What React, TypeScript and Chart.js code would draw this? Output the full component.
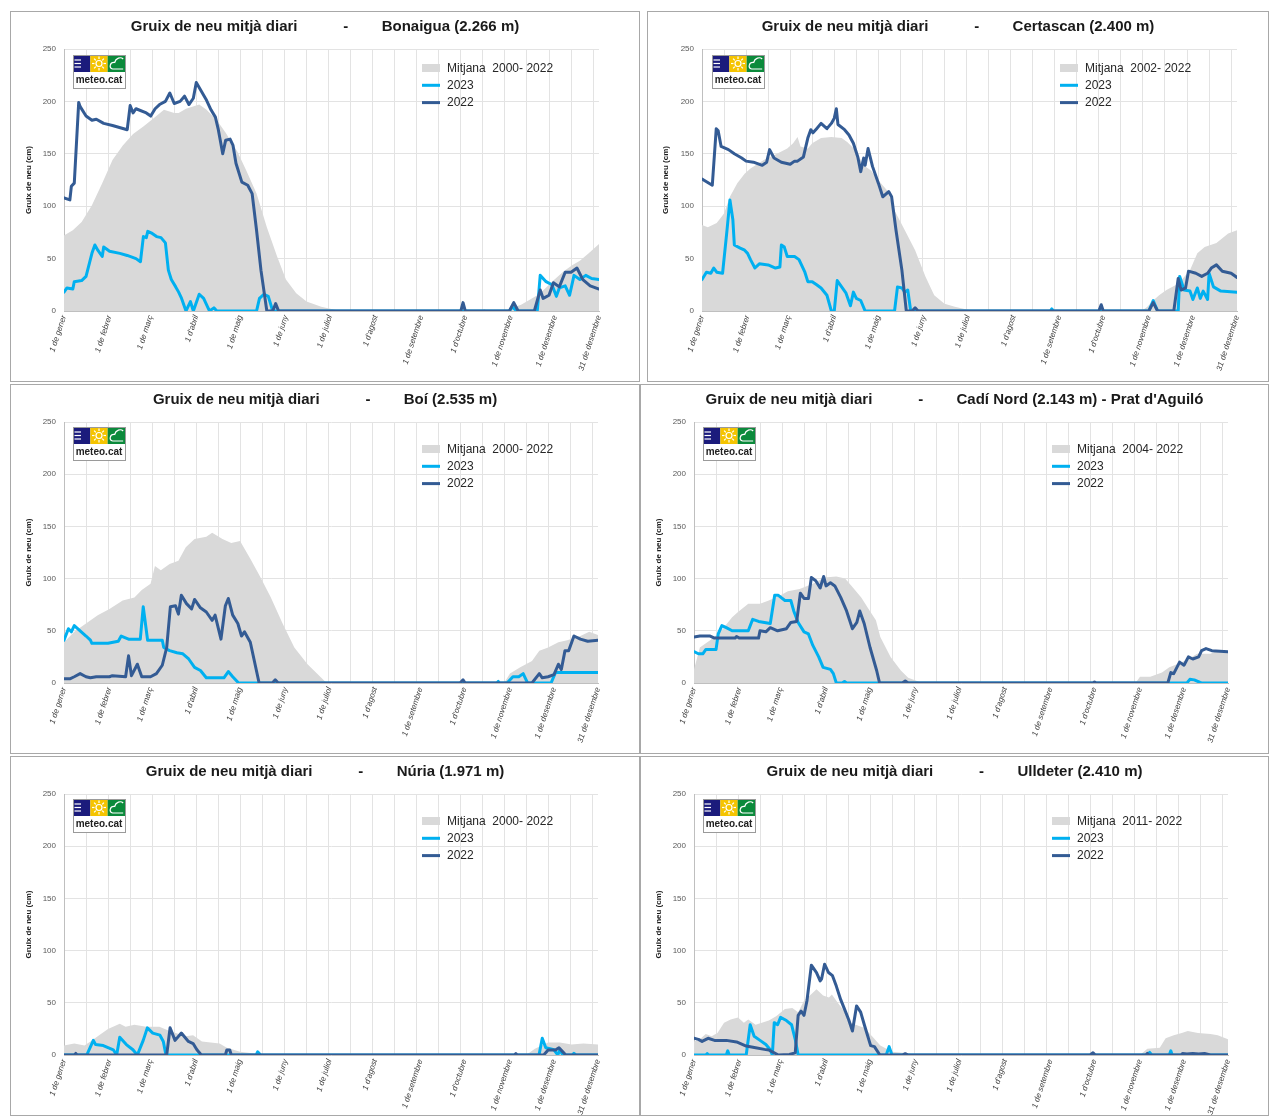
import React, { useEffect, useRef } from 'react';
import { Chart, registerables } from 'chart.js';

Chart.register(...registerables);

type Pt = [number, number];

// ---------- axis data ----------
const monthDays: number[] = [0, 31, 59, 90, 120, 151, 181, 212, 243, 273, 304, 334, 364];
const monthLabels: string[] = [
  '1 de gener', '1 de febrer', '1 de març', "1 d'abril", '1 de maig', '1 de juny',
  '1 de juliol', "1 d'agost", '1 de setembre', "1 d'octubre", '1 de novembre',
  '1 de desembre', '31 de desembre',
];
const gridDays: number[] = [0, 15, 30, 45, 60, 75, 90, 105, 120, 135, 150, 165, 180, 195, 210, 225, 240, 255, 270, 285, 300, 315, 330, 345, 360];
const yTicks: number[] = [0, 50, 100, 150, 200, 250];

// ---------- Bonaigua ----------
const bonaiguaMitjana: Pt[] = [[0,72],[6,77],[12,85],[19,101],[26,122],[33,144],[40,158],[47,169],[54,176],[61,184],[68,192],[75,189],[78,189],[83,193],[92,197],[97,192],[104,182],[110,170],[118,152],[124,134],[131,112],[138,80],[145,52],[151,30],[158,17],[165,9],[175,4],[185,1],[190,0],[284,0],[286,2],[288,0],[300,0],[305,3],[311,6],[316,10],[322,15],[327,21],[332,28],[340,38],[346,44],[351,48],[357,55],[364,64]];
const bonaigua2023: Pt[] = [[0,18],[2,22],[6,21],[7,28],[12,29],[15,33],[19,55],[21,63],[23,58],[26,52],[27,61],[31,57],[38,55],[43,53],[49,50],[52,47],[54,71],[56,70],[57,76],[60,74],[63,71],[66,70],[69,65],[71,39],[73,30],[76,23],[78,18],[80,12],[83,0],[86,9],[88,0],[92,16],[95,12],[98,3],[99,0],[102,3],[104,0],[131,0],[133,12],[136,16],[139,14],[142,0],[303,0],[305,4],[308,0],[322,0],[324,34],[328,28],[332,25],[335,14],[337,22],[341,24],[344,15],[347,34],[351,30],[355,34],[359,31],[364,30]];
const bonaigua2022: Pt[] = [[0,108],[4,106],[5,119],[7,122],[10,199],[11,195],[15,186],[19,182],[22,183],[27,179],[33,177],[43,173],[45,196],[47,189],[49,193],[56,189],[59,186],[62,193],[65,197],[69,200],[72,208],[75,198],[79,200],[82,205],[85,197],[88,203],[90,218],[97,201],[100,192],[103,185],[105,173],[108,150],[110,163],[113,164],[115,158],[117,141],[121,123],[125,120],[128,112],[131,77],[134,39],[138,0],[142,0],[144,7],[146,0],[270,0],[271.5,8],[273,0],[303,0],[306,8],[309,0],[320,0],[324,20],[326,12],[330,15],[333,27],[337,23],[341,37],[345,37],[349,41],[353,30],[358,24],[364,21]];

// ---------- Certascan ----------
const certascanMitjana: Pt[] = [[0,82],[4,80],[10,84],[15,93],[19,109],[24,122],[29,131],[33,136],[42,144],[51,150],[58,155],[62,160],[65,166],[67,157],[72,155],[75,160],[81,165],[88,166],[95,165],[99,161],[104,154],[110,139],[115,134],[121,123],[126,115],[131,96],[138,77],[145,58],[152,33],[158,15],[165,7],[172,4],[180,1.5],[185,0],[299,0],[303,4],[307,10],[311,15],[316,20],[324,26],[332,39],[337,55],[342,61],[350,65],[358,74],[364,77]];
const certascan2023: Pt[] = [[0,30],[3,37],[6,36],[8,41],[10,37],[14,36],[17,77],[19,106],[21,87],[22,63],[26,60],[29,58],[31,55],[33,49],[36,41],[39,45],[45,44],[50,41],[53,42],[54,63],[56,61],[58,52],[63,52],[66,49],[70,37],[72,28],[75,28],[78,25],[81,22],[85,15],[88,0],[90,0],[92,29],[95,23],[98,17],[101,5],[103,18],[105,12],[108,10],[111,0],[131,0],[133,23],[136,22],[138,18],[140,20],[142,0],[237,0],[238,2],[239,0],[304,0],[307,10],[310,0],[324,0],[325,33],[328,20],[332,19],[334,11],[337,22],[339,12],[341,19],[344,11],[345,36],[348,23],[353,19],[364,18]];
const certascan2022: Pt[] = [[0,126],[7,120],[9.7,174],[11,172],[13,157],[18,154],[22,150],[27,146],[30,143],[35,142],[41,139],[44,142],[46,154],[49,146],[54,142],[60,140],[63,143],[65,143],[69,147],[72,165],[74,173],[75.5,170],[78,174],[81,179],[85,174],[88,179],[90,184],[91.4,193],[92.5,178],[97,173],[100,168],[103,160],[106,147],[108,133],[110,146],[111,139],[113,155],[116,138],[120,122],[123,109],[127,114],[129,109],[132,77],[136,39],[139,0],[143,0],[145,3],[147,0],[270,0],[271.6,6],[273,0],[304,0],[307,8],[310,0],[321,0],[324,31],[326,20],[329,22],[331,38],[336,36],[340,33],[344,36],[346.5,41],[350,44],[354,38],[360,36],[364,32]];

// ---------- Boí ----------
const boiMitjana: Pt[] = [[0,39],[7,49],[15,57],[23,65],[31,71],[40,79],[48,82],[53,89],[59,95],[62,112],[66,108],[72,114],[78,117],[83,130],[89,138],[97,140],[101,144],[108,138],[114,134],[120,136],[127,119],[134,101],[141,82],[149,57],[157,34],[166,18],[174,7],[179,0],[300,0],[304,9],[311,15],[319,21],[324,31],[330,34],[337,39],[343,41],[352,45],[358,49],[364,46]];
const boi2023: Pt[] = [[0,41],[3,52],[5,49],[7,55],[11,50],[15,45],[18,41],[19,38],[30,38],[37,40],[39,45],[44,42],[52,42],[54,73],[57,41],[67,41],[68,34],[72,31],[77,29],[81,28],[85,23],[89,15],[93,12],[97,5],[101,5],[109,5],[112,11],[115,6],[119,0],[295,0],[296,1.5],[297,0],[302,0],[306,6],[310,6],[313,9],[315,3],[316,0],[332,0],[335,10],[364,10]];
const boi2022: Pt[] = [[0,4],[4,4],[7,6],[11,9],[15,6],[18,5],[22,6],[31,6],[33,7],[42,6],[44,26],[46,7],[50,18],[53,6],[59,6],[63,9],[67,17],[70,34],[72.5,73],[76,74],[78,66],[80,84],[83.5,76],[87,71],[89,80],[93,72],[97,68],[101,60],[103,65],[107,42],[110,74],[112,81],[115,65],[118.5,57],[121,45],[123,49],[127,39],[133,0],[142,0],[144,3],[146,0],[270,0],[272,3],[273.5,0],[319,0],[324,9],[326,5],[330,6],[334,8],[337,18],[339,13],[341.5,31],[344,31],[347.6,45],[352,42],[357,40],[364,41]];

// ---------- Cadí Nord ----------
const cadiMitjana: Pt[] = [[0,13],[4,34],[11,41],[18,49],[26,63],[30,68],[37,76],[45,76],[51,79],[59,84],[64,88],[72,90],[81,95],[89,101],[97,102],[103,100],[108,92],[114,82],[119,71],[124,60],[127,44],[134,25],[141,12],[146,5],[152,2],[155,0],[301,0],[304,6],[311,6],[319,10],[324,15],[331,19],[337,23],[343,28],[352,28],[357,31],[364,29]];
const cadi2023: Pt[] = [[0,30],[3,28],[6,28],[8,32],[15,32],[16.5,47],[19,55],[22,53],[26,50],[37,50],[40,61],[44,59],[52,57],[55,84],[57.5,84],[62,79],[66,79],[68,69],[71,58],[75,49],[78,47],[81,36],[85,25],[88,15],[93,13],[95,9],[97,0],[101,0],[102.6,1.5],[104,0],[336,0],[338,3.5],[341,3],[345,0.5],[346,0],[364,0]];
const cadi2022: Pt[] = [[0,44],[4,45],[11,45],[14,43],[28,43],[29,44.5],[31,43],[44,43],[45,50],[49,49],[52,53],[57,50],[63,52],[66,58],[70,59],[72.5,86],[75,81],[78,81],[80,101],[83,98],[86,91],[88.4,102],[90,93],[93,96],[96,93],[100,82],[104,69],[108,52],[111,58],[113,69],[116,57],[120,34],[124.5,12],[126.5,0],[142,0],[144,2],[146,0],[272,0],[273,1],[274,0],[323,0],[325,10],[327,9],[331,20],[334,17],[337,25],[340,23],[344,25],[346,31],[349,33],[353,31],[364,30]];

// ---------- Núria ----------
const nuriaMitjana: Pt[] = [[0,9],[7,11],[14,9],[18,13],[23,18],[30,25],[38,30],[42,27],[48,29],[56,27],[65,27],[72,23],[83,18],[88,19],[94,13],[106,11],[111,7],[120,3],[127,2],[138,0],[315,0],[321,6],[330,12],[338,12],[346,10],[354,11],[364,10]];
const nuria2023: Pt[] = [[0,0],[15.5,0],[20,14],[21.5,10],[26.8,9],[33.6,5],[35.9,0],[38,17],[42.5,10],[47,5],[50,0],[54,14],[56.8,26],[60.5,21],[65.4,19],[67.7,13],[69.5,0],[131,0],[132,3],[134,0],[323.8,0],[326,16],[328.4,7],[334,5],[336.6,0],[338,5],[340,0],[346.5,0],[347.6,1.6],[349,0],[364,0]];
const nuria2022: Pt[] = [[0,0],[7,0],[8,1.5],[9,0],[70,0],[72.3,26],[75.7,14],[80,21],[84.8,13],[88,11],[90.6,5],[93.6,0],[110,0],[111,4.8],[113,4.8],[114,0],[307,0],[308,1.3],[309,0],[327,0],[330,4.8],[335,4.8],[337.4,7],[340,3],[342,0],[364,0]];

// ---------- Ulldeter ----------
const ulldeterMitjana: Pt[] = [[0,13],[4,15],[8,20],[12,18],[16,21],[20.5,31],[25,34],[30,36],[34,31],[37,34],[42,29],[51,33],[56,37],[62,44],[67,45],[71,41],[75,52],[79,57],[83.5,63],[88,57],[92,55],[94,58],[98.5,49],[103,41],[107,31],[112,28],[116,26],[122,17],[127,9],[135,3],[144,2],[152,0],[304,0],[305,1.3],[309,6],[317.5,7],[321.5,16],[327,19],[332.5,21],[336.6,23],[343.5,21],[352,20],[357,19],[364,15]];
const ulldeter2023: Pt[] = [[0,0],[8,0],[9,1.3],[10,0],[22,0],[23,4],[24,0],[35.6,0],[38.3,29],[41,18],[45,14],[49,10],[52,5],[53.4,0],[54.7,31],[57,29],[59,36],[63,33],[66.5,29],[69,15],[71,0],[131,0],[133,8],[135,0],[309,0],[310.6,2.5],[312,0],[324,0],[325,4],[326,0],[364,0]];
const ulldeter2022: Pt[] = [[0,16],[3,15],[5.5,13],[9.6,16],[14,14],[22,14],[29,12.5],[35.6,8.6],[42,7],[48,5.4],[51,4.8],[53.4,3],[57.5,0],[65,0.6],[69,2],[71,38],[73,42],[75,38],[77,52],[80,86],[83.5,79],[86,71],[87,73],[89,87],[91.7,79],[94.4,76],[97,66],[100,53],[102.6,44],[105.4,34],[108,23],[110.8,47],[113.6,41],[116.3,28],[120.4,9],[123,8],[126.7,0],[142,0],[144,1.3],[146,0],[270,0],[272,2.2],[273.5,0],[308,0],[309,1.5],[310,0],[332,0],[333,1.5],[336,1],[340,1.5],[344,1],[348,1.5],[352,0],[364,0]];

// ---------- text ----------
const stationNames: string[] = [
  'Bonaigua (2.266 m)', 'Certascan (2.400 m)', 'Boí (2.535 m)',
  "Cadí Nord (2.143 m) - Prat d'Aguiló", 'Núria (1.971 m)', 'Ulldeter (2.410 m)',
];
const averageLabels: string[] = [
  'Mitjana  2000- 2022', 'Mitjana  2002- 2022', 'Mitjana  2000- 2022',
  'Mitjana  2004- 2022', 'Mitjana  2000- 2022', 'Mitjana  2011- 2022',
];
const seriesAvg: Pt[][] = [bonaiguaMitjana, certascanMitjana, boiMitjana, cadiMitjana, nuriaMitjana, ulldeterMitjana];
const series2023: Pt[][] = [bonaigua2023, certascan2023, boi2023, cadi2023, nuria2023, ulldeter2023];
const series2022: Pt[][] = [bonaigua2022, certascan2022, boi2022, cadi2022, nuria2022, ulldeter2022];

// ---------- layout (page coordinates) ----------
interface Geo {
  left: number; top: number; w: number; h: number;
  plotL: number; plotR: number; plotT: number; plotB: number;
  legendDy: number; logoDx: number; logoDy: number;
}
const geos: Geo[] = [
  { left: 10, top: 11, w: 630, h: 371, plotL: 64, plotR: 599, plotT: 49, plotB: 311, legendDy: 19, logoDx: 9, logoDy: 6 },
  { left: 647, top: 11, w: 622, h: 371, plotL: 702, plotR: 1237, plotT: 49, plotB: 311, legendDy: 19, logoDx: 10, logoDy: 6 },
  { left: 10, top: 384, w: 630, h: 370, plotL: 64, plotR: 598, plotT: 422, plotB: 683, legendDy: 27, logoDx: 9, logoDy: 5 },
  { left: 640, top: 384, w: 629, h: 370, plotL: 694, plotR: 1228, plotT: 422, plotB: 683, legendDy: 27, logoDx: 9, logoDy: 5 },
  { left: 10, top: 756, w: 630, h: 360, plotL: 64, plotR: 598, plotT: 794, plotB: 1055, legendDy: 27, logoDx: 9, logoDy: 5 },
  { left: 640, top: 756, w: 629, h: 360, plotL: 694, plotR: 1228, plotT: 794, plotB: 1055, legendDy: 27, logoDx: 9, logoDy: 5 },
];

const FONT = "'Liberation Sans', Arial, Helvetica, sans-serif";
const C2022 = '#335b94';
const C2023 = '#00b0f0';
const CAVG = '#d9d9d9';
const GRID = '#e3e3e3';

const toXY = (pts: Pt[]) => pts.map(([x, y]) => ({ x, y }));

function decorPlugin(g: Geo, avgLabel: string) {
  return {
    id: 'decor',
    afterDraw(chart: any) {
      const ctx: CanvasRenderingContext2D = chart.ctx;
      const ca = chart.chartArea;
      ctx.save();
      // ---- logo ----
      const lx = ca.left + g.logoDx;
      const ly = ca.top + g.logoDy;
      const sw = 52 / 3;
      const sh = 17;
      ctx.fillStyle = '#ffffff';
      ctx.fillRect(lx, ly, 52, 33);
      ctx.fillStyle = '#1b1b7c';
      ctx.fillRect(lx, ly, sw, sh);
      ctx.fillStyle = '#f5c400';
      ctx.fillRect(lx + sw, ly, sw, sh);
      ctx.fillStyle = '#0b8a3b';
      ctx.fillRect(lx + 2 * sw, ly, sw, sh);
      ctx.strokeStyle = '#ffffff';
      ctx.lineWidth = 1.2;
      for (let i = 0; i < 3; i++) {
        ctx.beginPath();
        ctx.moveTo(lx + 1.5, ly + 5 + i * 3.5);
        ctx.lineTo(lx + 8, ly + 5 + i * 3.5);
        ctx.stroke();
      }
      const sx = lx + sw * 1.5;
      const sy = ly + sh / 2;
      ctx.beginPath();
      ctx.arc(sx, sy, 3, 0, Math.PI * 2);
      ctx.stroke();
      for (let i = 0; i < 8; i++) {
        const a = (i * Math.PI) / 4;
        ctx.beginPath();
        ctx.moveTo(sx + Math.cos(a) * 4.5, sy + Math.sin(a) * 4.5);
        ctx.lineTo(sx + Math.cos(a) * 7, sy + Math.sin(a) * 7);
        ctx.stroke();
      }
      const gx = lx + 2 * sw;
      ctx.beginPath();
      ctx.moveTo(gx + 15.5, ly + 14);
      ctx.lineTo(gx + 5, ly + 14);
      ctx.bezierCurveTo(gx + 1, ly + 13, gx + 2, ly + 7, gx + 7, ly + 7.5);
      ctx.bezierCurveTo(gx + 8, ly + 3, gx + 13, ly + 1.5, gx + 15.5, ly + 4);
      ctx.stroke();
      ctx.strokeStyle = '#9a9a9a';
      ctx.lineWidth = 1;
      ctx.strokeRect(lx + 0.5, ly + 0.5, 52, 33);
      ctx.fillStyle = '#222222';
      ctx.font = `bold 10px ${FONT}`;
      ctx.textAlign = 'center';
      ctx.textBaseline = 'middle';
      ctx.fillText('meteo.cat', lx + 26, ly + 25.5);
      // ---- legend ----
      const x0 = ca.left + 358;
      const y0 = ca.top + g.legendDy;
      const rows = [
        { kind: 'box', color: CAVG, text: avgLabel },
        { kind: 'line', color: C2023, text: '2023' },
        { kind: 'line', color: C2022, text: '2022' },
      ];
      ctx.font = `12px ${FONT}`;
      ctx.textAlign = 'left';
      rows.forEach((r, i) => {
        const y = y0 + i * 17.3;
        ctx.fillStyle = r.color;
        if (r.kind === 'box') ctx.fillRect(x0, y - 4, 18, 8);
        else ctx.fillRect(x0, y - 1.5, 18, 3);
        ctx.fillStyle = '#262626';
        ctx.fillText(r.text, x0 + 25, y + 0.5);
      });
      ctx.restore();
    },
  };
}

function Panel({ idx }: { idx: number }) {
  const ref = useRef<HTMLCanvasElement | null>(null);
  const g = geos[idx];
  const cw = g.w - 2;
  const chh = g.h - 2;
  useEffect(() => {
    if (!ref.current) return;
    const canvasLeft = g.left + 1;
    const canvasTop = g.top + 1;
    const yW = g.plotL - canvasLeft;
    const padR = canvasLeft + cw - g.plotR;
    const xH = canvasTop + chh - g.plotB;
    const tickValues = Array.from(new Set([...gridDays, ...monthDays])).sort((a, b) => a - b);
    const title =
      'Gruix de neu mitjà diari' + ' '.repeat(11) + '-' + ' '.repeat(8) + stationNames[idx];
    const chart = new Chart(ref.current, {
      type: 'line',
      data: {
        datasets: [
          {
            label: '2022', data: toXY(series2022[idx]), borderColor: C2022, borderWidth: 3,
            pointRadius: 0, fill: false, tension: 0, borderJoinStyle: 'round', borderCapStyle: 'round',
          },
          {
            label: '2023', data: toXY(series2023[idx]), borderColor: C2023, borderWidth: 3,
            pointRadius: 0, fill: false, tension: 0, borderJoinStyle: 'round', borderCapStyle: 'round',
          },
          {
            label: averageLabels[idx], data: toXY(seriesAvg[idx]), borderColor: 'rgba(0,0,0,0)',
            borderWidth: 0, backgroundColor: CAVG, fill: 'origin', pointRadius: 0, tension: 0,
          },
        ],
      } as any,
      options: {
        responsive: false,
        animation: false,
        events: [],
        layout: { padding: 0 },
        plugins: {
          legend: { display: false },
          tooltip: { enabled: false },
          title: {
            display: true, text: title, color: '#1a1a1a',
            font: { family: FONT, size: 15, weight: 'bold' },
            padding: { top: 6, bottom: g.plotT - canvasTop - 6 - 18 },
          },
        },
        scales: {
          x: {
            type: 'linear', min: 0, max: 364,
            afterBuildTicks: (s: any) => { s.ticks = tickValues.map((v) => ({ value: v })); },
            afterFit: (s: any) => { s.height = xH; },
            grid: {
              drawTicks: false,
              color: (c: any) => (c.tick && gridDays.includes(c.tick.value) ? GRID : 'rgba(0,0,0,0)'),
            },
            border: { color: '#bfbfbf' },
            ticks: {
              autoSkip: false, maxRotation: 72, minRotation: 72, padding: 3,
              color: '#404040', font: { family: FONT, size: 8, style: 'italic' },
              callback: (v: any) => {
                const i = monthDays.indexOf(Number(v));
                return i >= 0 ? monthLabels[i] : '';
              },
            },
          },
          y: {
            position: 'left',
            min: 0, max: 250,
            afterBuildTicks: (s: any) => { s.ticks = yTicks.map((v) => ({ value: v })); },
            afterFit: (s: any) => { s.width = yW; },
            grid: { color: GRID, drawTicks: false },
            border: { color: '#bfbfbf' },
            ticks: { padding: 8, color: '#595959', font: { family: FONT, size: 8 } },
            title: {
              display: true, text: 'Gruix de neu (cm)', color: '#1a1a1a',
              font: { family: FONT, size: 8, weight: 'bold' },
              padding: { top: 12.5, bottom: 0 },
            },
          },
          yRightSpace: {
            position: 'right',
            display: true,
            min: 0, max: 1,
            grid: { display: false, drawOnChartArea: false, drawTicks: false },
            border: { display: false },
            ticks: { display: false },
            afterFit: (s: any) => { s.width = padR; },
          },
        },
      } as any,
      plugins: [decorPlugin(g, averageLabels[idx]) as any],
    });
    return () => chart.destroy();
  }, [idx]);
  return (
    <div
      style={{
        position: 'absolute', left: g.left, top: g.top, width: g.w, height: g.h,
        boxSizing: 'border-box', border: '1px solid #a8a8a8', background: '#fff',
      }}
    >
      <canvas ref={ref} width={cw} height={chh} style={{ display: 'block', width: cw, height: chh }} />
    </div>
  );
}

export default function App() {
  return (
    <div style={{ position: 'fixed', left: 0, top: 0, width: 1269, height: 1117, overflow: 'hidden', background: '#fff' }}>
      {geos.map((_, i) => (
        <Panel key={i} idx={i} />
      ))}
    </div>
  );
}
